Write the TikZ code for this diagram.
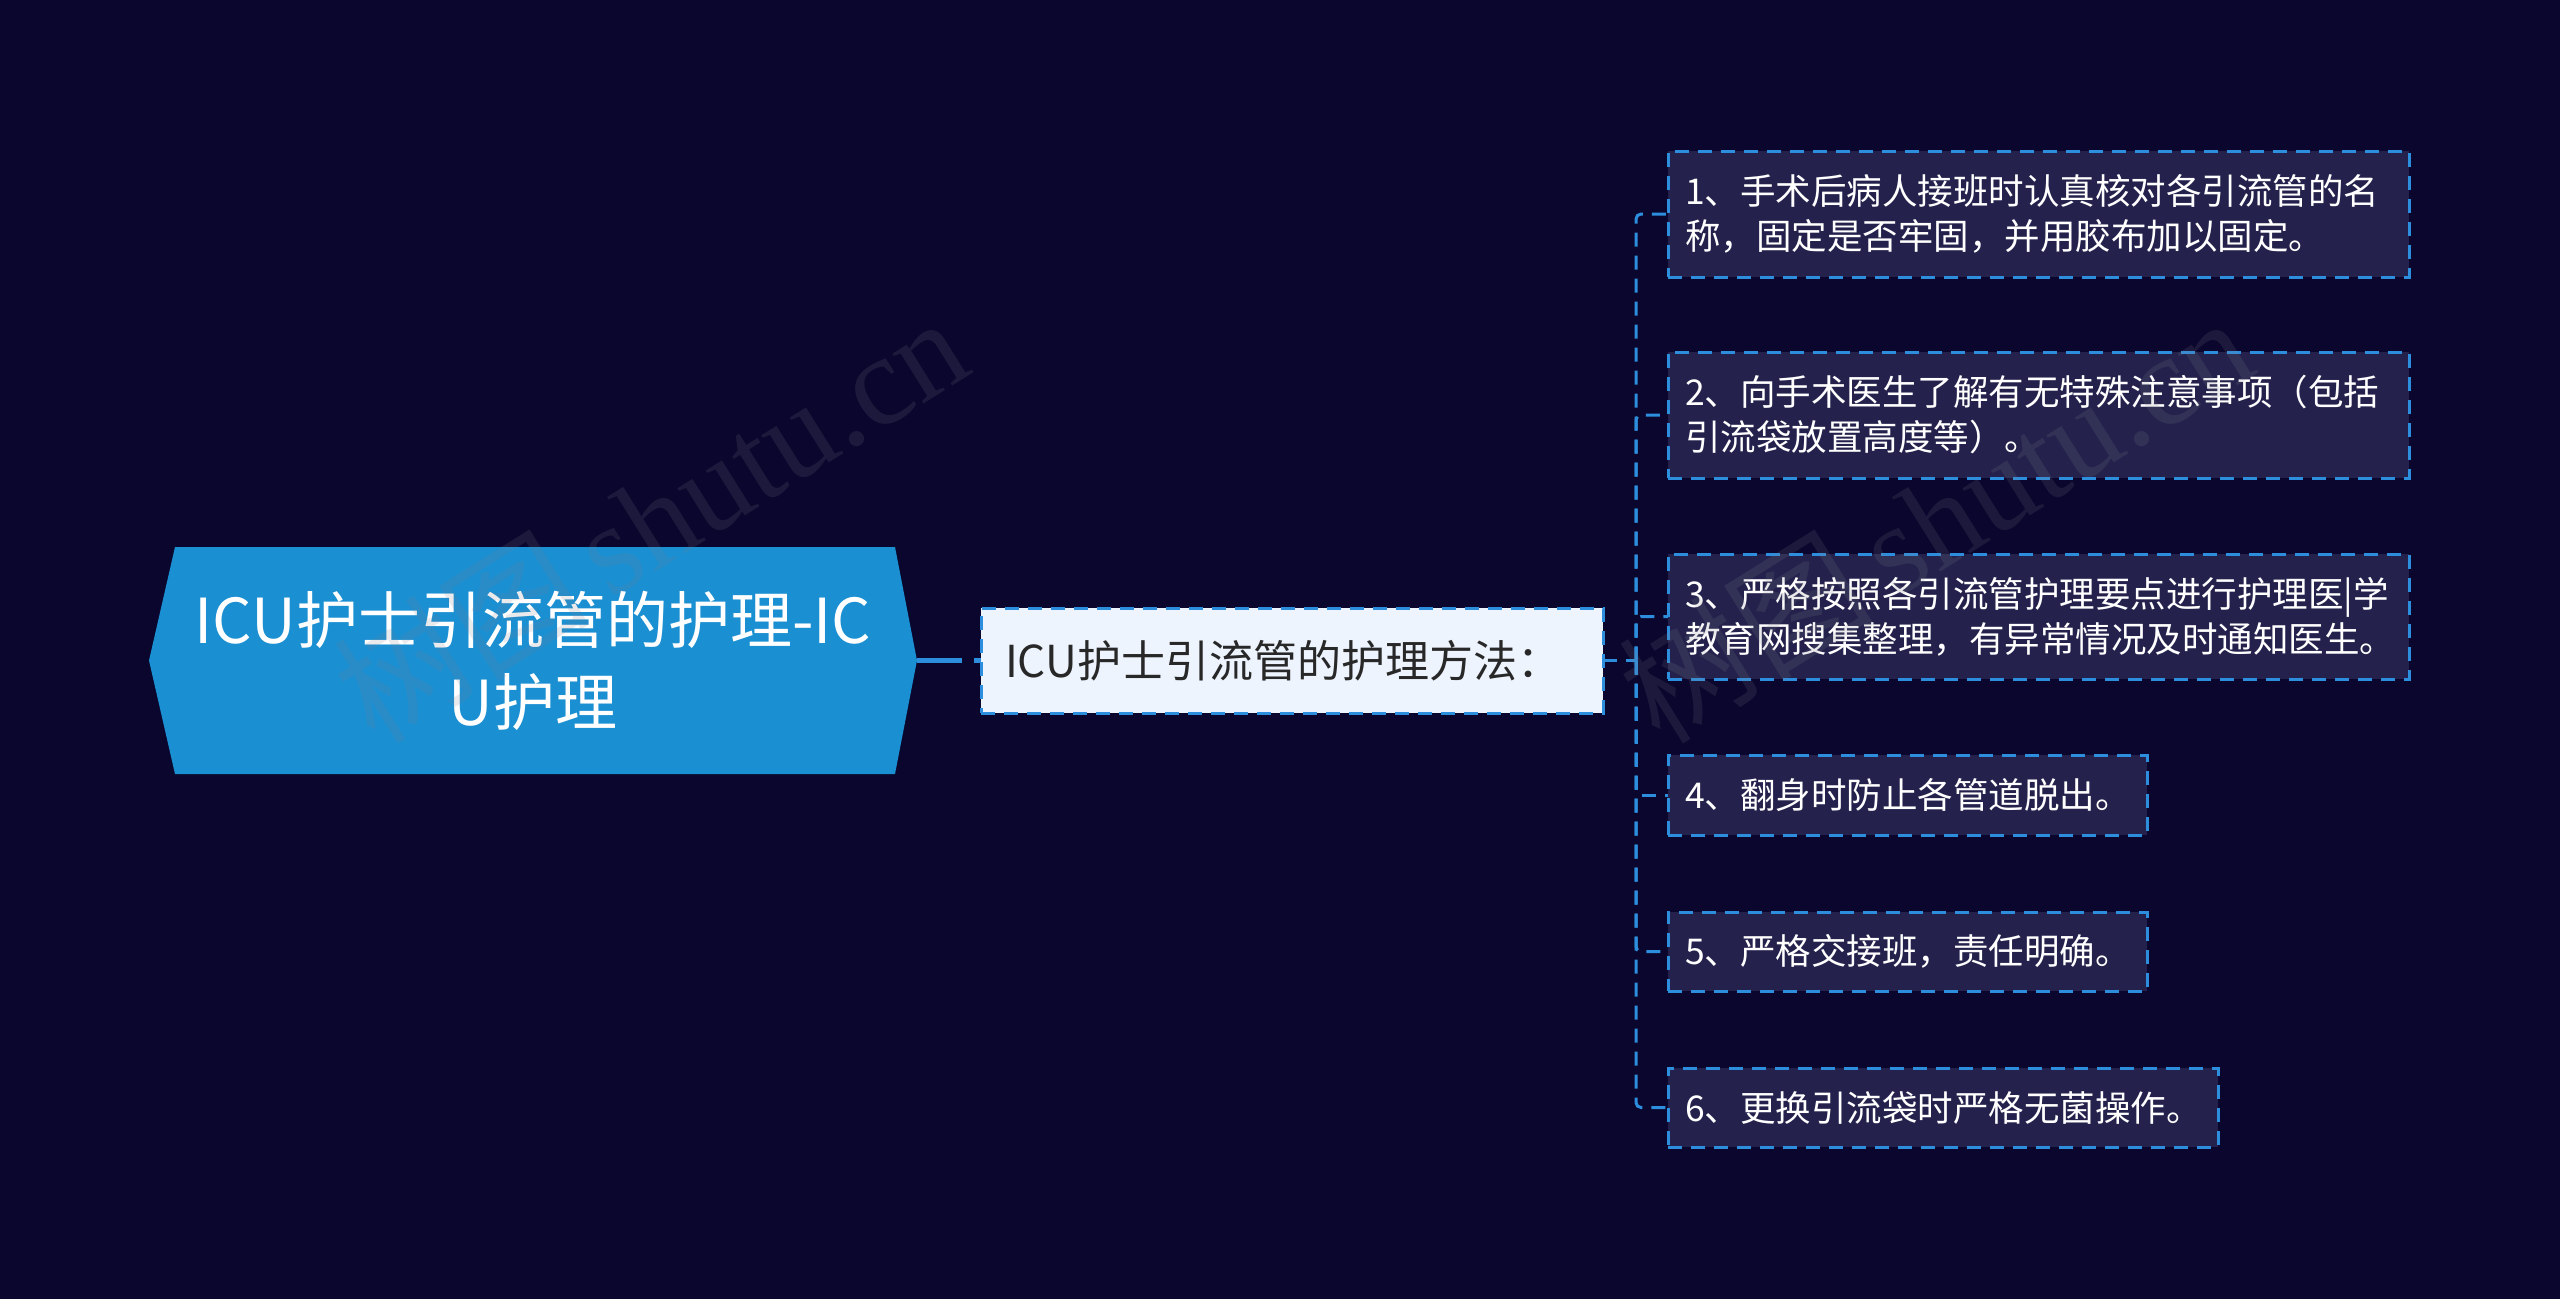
\documentclass[tikz,border=0pt]{standalone}
\usepackage{fontspec}
\setmainfont{Noto Sans CJK SC}
\newfontfamily\wmserif{Liberation Serif}
\usetikzlibrary{calc}
\definecolor{bgc}{RGB}{10,6,45}
\definecolor{rootblue}{RGB}{26,143,210}
\definecolor{midfill}{RGB}{238,244,253}
\definecolor{leaffill}{RGB}{36,34,76}
\definecolor{dashblue}{RGB}{46,142,222}
\definecolor{midtext}{RGB}{40,40,40}
\definecolor{wmgray}{RGB}{128,128,140}
\begin{document}
\begin{tikzpicture}[x=1pt,y=-1pt,
  conn/.style={draw=dashblue, line width=3pt, dash pattern=on 14pt off 9pt},
  rootconn/.style={draw=dashblue, line width=5pt, dash pattern=on 45pt off 12pt},
  leafbox/.style={draw=dashblue, fill=leaffill, line width=3pt, dash pattern=on 14pt off 9pt,
    anchor=north west, outer sep=0pt, inner xsep=17pt, inner ysep=0pt, align=left, text=white,
    font=\fontsize{35.5pt}{45pt}\selectfont},
  midbox/.style={draw=dashblue, fill=midfill, line width=3pt, dash pattern=on 14pt off 9pt,
    anchor=north west, outer sep=0pt, inner xsep=24pt, inner ysep=0pt, minimum width=622pt,
    minimum height=105pt, text width=574pt, align=left,
    text=midtext, font=\fontsize{44pt}{55pt}\selectfont},
  wm/.style={text=wmgray, opacity=0.16, rotate=32, font=\fontsize{128pt}{140pt}\selectfont}
]
\fill[bgc] (0,0) rectangle (2560,1299);
\useasboundingbox (0,0) rectangle (2560,1299);

% root
\node[minimum width=768pt, minimum height=227pt, inner sep=0pt, outer sep=0pt, align=center, text=white,
  font=\fontsize{62pt}{82pt}\selectfont,
  path picture={\fill[rootblue] (path picture bounding box.west)
     -- ([xshift=26pt]path picture bounding box.north west)
     -- ([xshift=-22pt]path picture bounding box.north east)
     -- (path picture bounding box.east)
     -- ([xshift=-22pt]path picture bounding box.south east)
     -- ([xshift=26pt]path picture bounding box.south west) -- cycle;}]
  (root) at (533,660.5) {ICU护士引流管的护理-IC\\U护理};

% middle
\node[midbox] (mid) at (981,608) {ICU护士引流管的护理方法：};

% leaves
\node[leafbox, minimum width=741pt, minimum height=126pt, text width=707pt] (l1) at (1668,151)
  {1、手术后病人接班时认真核对各引流管的名\\称，固定是否牢固，并用胶布加以固定。};
\node[leafbox, minimum width=741pt, minimum height=126pt, text width=707pt] (l2) at (1668,352)
  {2、向手术医生了解有无特殊注意事项（包括\\引流袋放置高度等）。};
\node[leafbox, minimum width=741pt, minimum height=125pt, text width=707pt] (l3) at (1668,554)
  {3、严格按照各引流管护理要点进行护理医|学\\教育网搜集整理，有异常情况及时通知医生。};
\node[leafbox, minimum width=479pt, minimum height=80pt, text width=445pt] (l4) at (1668,755)
  {4、翻身时防止各管道脱出。};
\node[leafbox, minimum width=479pt, minimum height=79pt, text width=445pt] (l5) at (1668,912)
  {5、严格交接班，责任明确。};
\node[leafbox, minimum width=550pt, minimum height=79pt, text width=516pt] (l6) at (1668,1068)
  {6、更换引流袋时严格无菌操作。};

% connectors
\draw[rootconn] (root.east) -- (mid.west);
\coordinate (J) at (1636,660.5);
\draw[conn] (mid.east) -- (J);
\foreach \n in {l1,l2,l3,l4,l5,l6}{
  \draw[conn, rounded corners=5pt] (J) |- (\n.west);
}

% watermarks
\node[wm] (wm1) at (650,518) {树图\,{\wmserif shutu.cn}};
\node[wm] (wm2) at (1935,518) {树图\,{\wmserif shutu.cn}};
\end{tikzpicture}
\end{document}
